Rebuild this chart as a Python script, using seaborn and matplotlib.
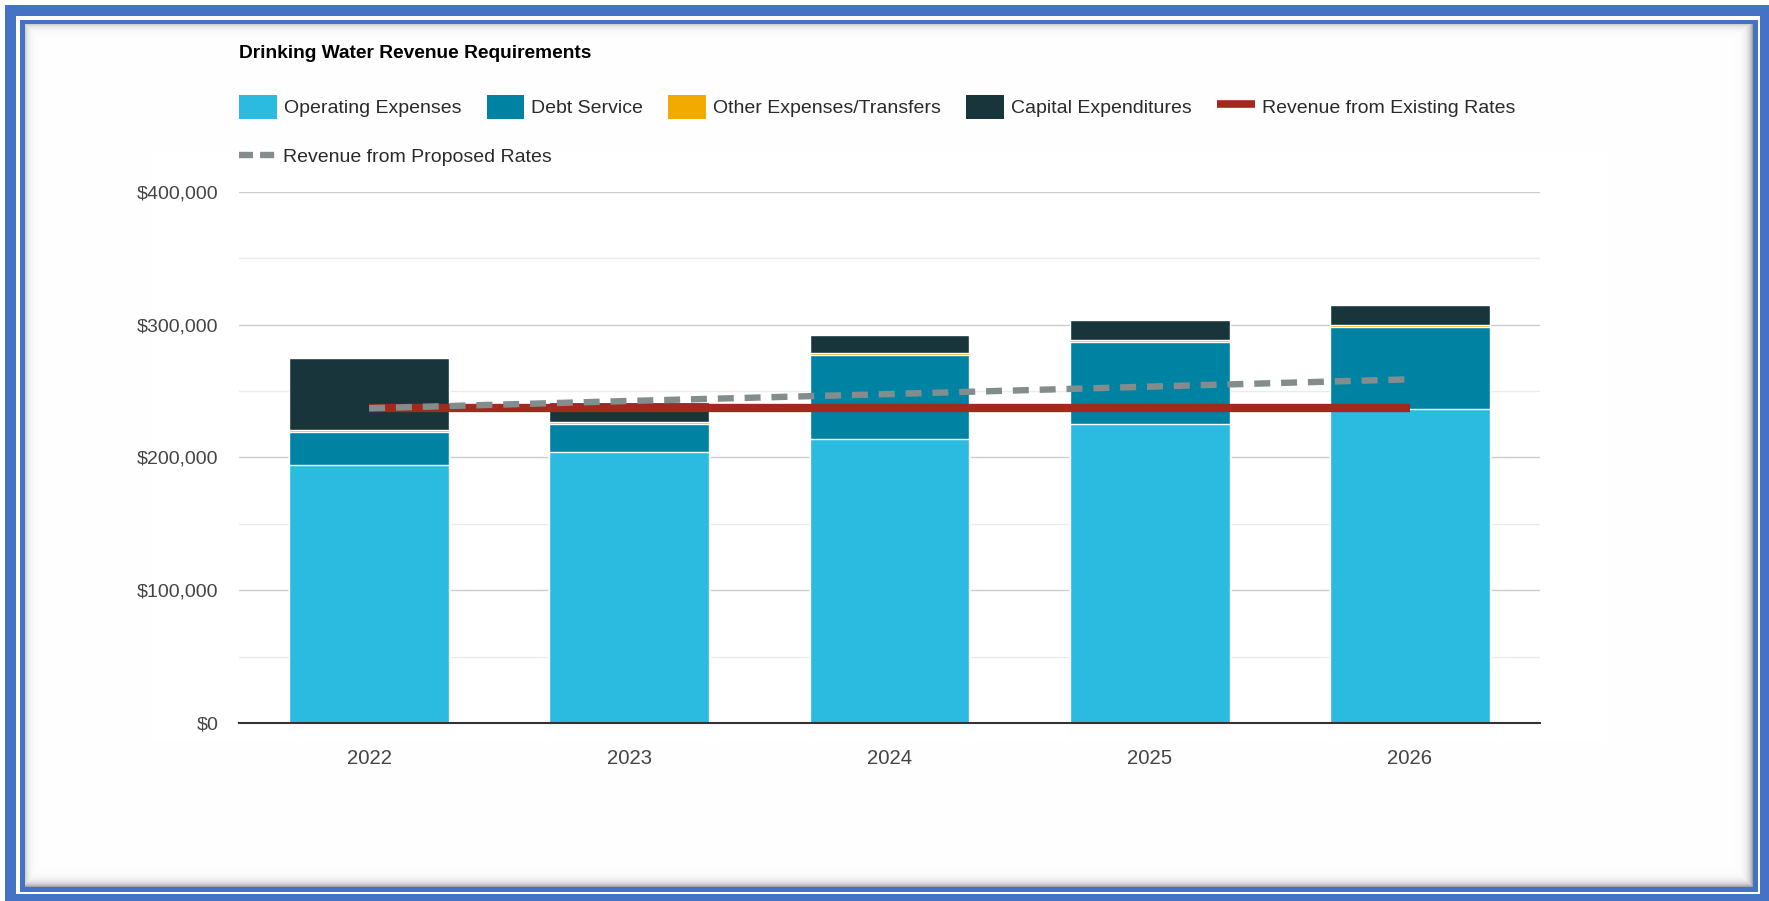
import numpy as np
import pandas as pd
import matplotlib
matplotlib.use("Agg")
import matplotlib.pyplot as plt
import seaborn as sns
from matplotlib import font_manager
from matplotlib.ticker import FuncFormatter, MultipleLocator
from matplotlib.patches import Patch
from matplotlib.lines import Line2D

# ---------------- data ----------------
years = ["2022", "2023", "2024", "2025", "2026"]
operating = [194300, 204300, 213600, 224900, 236200]
debt = [25100, 20900, 63600, 62300, 62300]
other = [1200, 1200, 1200, 1200, 1200]
capital = [54000, 15600, 13800, 15100, 15100]
existing_rates = [237000, 237000, 237000, 237000, 237000]
proposed_rates = [237000, 242500, 247700, 253300, 258800]

title = "Drinking Water Revenue Requirements"
series_names = ["Operating Expenses", "Debt Service", "Other Expenses/Transfers",
                "Capital Expenditures", "Revenue from Existing Rates",
                "Revenue from Proposed Rates"]
y_ticks = [0, 100000, 200000, 300000, 400000]

# ---------------- style ----------------
C_OP, C_DEBT, C_OTHER, C_CAP = "#2bbae0", "#0083a3", "#f2a900", "#18353b"
C_RED, C_GRAY = "#a3291e", "#848d8d"
BLUE = np.array([68, 114, 196]) / 255.0

sns.set_theme(style="white")
names = {f.name for f in font_manager.fontManager.ttflist}
if "Liberation Sans Narrow" in names:
    FONT, FS = "Liberation Sans Narrow", 16.5
else:
    FONT, FS = "Liberation Sans", 14
plt.rcParams["font.family"] = [FONT, "DejaVu Sans"]

W, H = 1769, 901
fig = plt.figure(figsize=(W / 100, H / 100), dpi=100)
fig.patch.set_facecolor("white")

# ---------------- frame background ----------------
img = np.ones((H, W, 3))
yy, xx = np.mgrid[0:H, 0:W]
outer = (xx >= 5) & (yy >= 5) & ~((xx >= 16) & (xx < 1760) & (yy >= 16) & (yy < 894))
inner = (xx >= 20) & (xx < 1758) & (yy >= 20) & (yy < 892) & \
        ~((xx >= 25) & (xx < 1753) & (yy >= 24) & (yy < 887))
img[outer] = BLUE
img[inner] = BLUE
region = (xx >= 25) & (xx < 1753) & (yy >= 24) & (yy < 887)
dl = np.clip(xx - 25, 0, None); dr = np.clip(1752 - xx, 0, None)
dt = np.clip(yy - 24, 0, None); db = np.clip(886 - yy, 0, None)
s = np.maximum.reduce([0.28 * np.exp(-dl / 3.5), 0.28 * np.exp(-dt / 3.5),
                       0.55 * np.exp(-dr / 4.0), 0.55 * np.exp(-db / 4.0)])
shade = 1 - s * 0.65
for c in range(3):
    ch = img[:, :, c]
    ch[region] = shade[region]
bg = fig.add_axes([0, 0, 1, 1], zorder=-10)
bg.imshow(img, aspect="auto", interpolation="nearest")
bg.axis("off")

# ---------------- main axes ----------------
left, right, top, bottom = 239, 1540, 191.8, 723
ax = fig.add_axes([left / W, 1 - bottom / H, (right - left) / W, (bottom - top) / H])
ax.set_facecolor("none")

df = pd.DataFrame({"year": years, "op": operating, "debt": debt,
                   "other": other, "cap": capital})
df["c1"] = df["op"]
df["c2"] = df["c1"] + df["debt"]
df["c3"] = df["c2"] + df["other"]
df["c4"] = df["c3"] + df["cap"]

bw = 0.614
for col, color in [("c4", C_CAP), ("c3", C_OTHER), ("c2", C_DEBT), ("c1", C_OP)]:
    sns.barplot(data=df, x="year", y=col, color=color, saturation=1, width=bw,
                errorbar=None, edgecolor="white", linewidth=1.0, ax=ax, zorder=2)

pos = np.arange(len(years))
sns.lineplot(x=pos, y=existing_rates, color=C_RED, linewidth=6.0, ax=ax,
             legend=False, zorder=4, solid_capstyle="butt")
sns.lineplot(x=pos, y=proposed_rates, color=C_GRAY, linewidth=4.6, ax=ax,
             legend=False, zorder=5)
ax.lines[-1].set_dashes([2.5, 1.7])
ax.lines[-1].set_dash_capstyle("butt")

ax.set_xlim(-0.5, len(years) - 0.5)
ax.set_ylim(0, 400000)
ax.set_yticks(y_ticks)
ax.yaxis.set_minor_locator(MultipleLocator(50000))
ax.yaxis.set_major_formatter(FuncFormatter(lambda v, p: f"${v:,.0f}"))
ax.grid(which="major", axis="y", color="#cccccc", linewidth=1.0, zorder=0)
ax.grid(which="minor", axis="y", color="#ebebeb", linewidth=1.0, zorder=0)
ax.set_axisbelow(True)
for sp in ["top", "left", "right"]:
    ax.spines[sp].set_visible(False)
ax.spines["bottom"].set_color("#333333")
ax.spines["bottom"].set_linewidth(1.5)
ax.spines["bottom"].set_zorder(6)
ax.tick_params(axis="y", which="both", length=0, pad=15, labelsize=FS, labelcolor="#444444")
ax.tick_params(axis="x", length=0, pad=19, labelsize=FS + 0.6, labelcolor="#444444")
ax.set_xlabel("")
ax.set_ylabel("")

# ---------------- title & legend ----------------
fig.text(left / W, 1 - 54 / H, title, fontsize=FS - 0.2, fontweight="bold",
         color="black", ha="left", va="center")

handles1 = [Patch(facecolor=C_OP, edgecolor="none"),
            Patch(facecolor=C_DEBT, edgecolor="none"),
            Patch(facecolor=C_OTHER, edgecolor="none"),
            Patch(facecolor=C_CAP, edgecolor="none"),
            Line2D([], [], color=C_RED, linewidth=5.5, solid_capstyle="butt")]
leg1 = fig.legend(handles1, series_names[:5], loc="center left",
                  bbox_to_anchor=(left / W, 1 - 107 / H), ncol=5, frameon=False,
                  fontsize=FS, handlelength=1.95, handleheight=1.5,
                  handletextpad=0.35, columnspacing=1.3, borderpad=0,
                  borderaxespad=0, labelcolor="#2a2a2a")
h2 = Line2D([], [], color=C_GRAY, linewidth=4.6, dashes=[2.2, 1.1],
            dash_capstyle="butt")
leg2 = fig.legend([h2], series_names[5:], loc="center left",
                  bbox_to_anchor=(left / W, 1 - 157 / H), frameon=False,
                  fontsize=FS, handlelength=1.85, handletextpad=0.4,
                  borderpad=0, borderaxespad=0, labelcolor="#2a2a2a")

fig.savefig("out.png", dpi=100)
